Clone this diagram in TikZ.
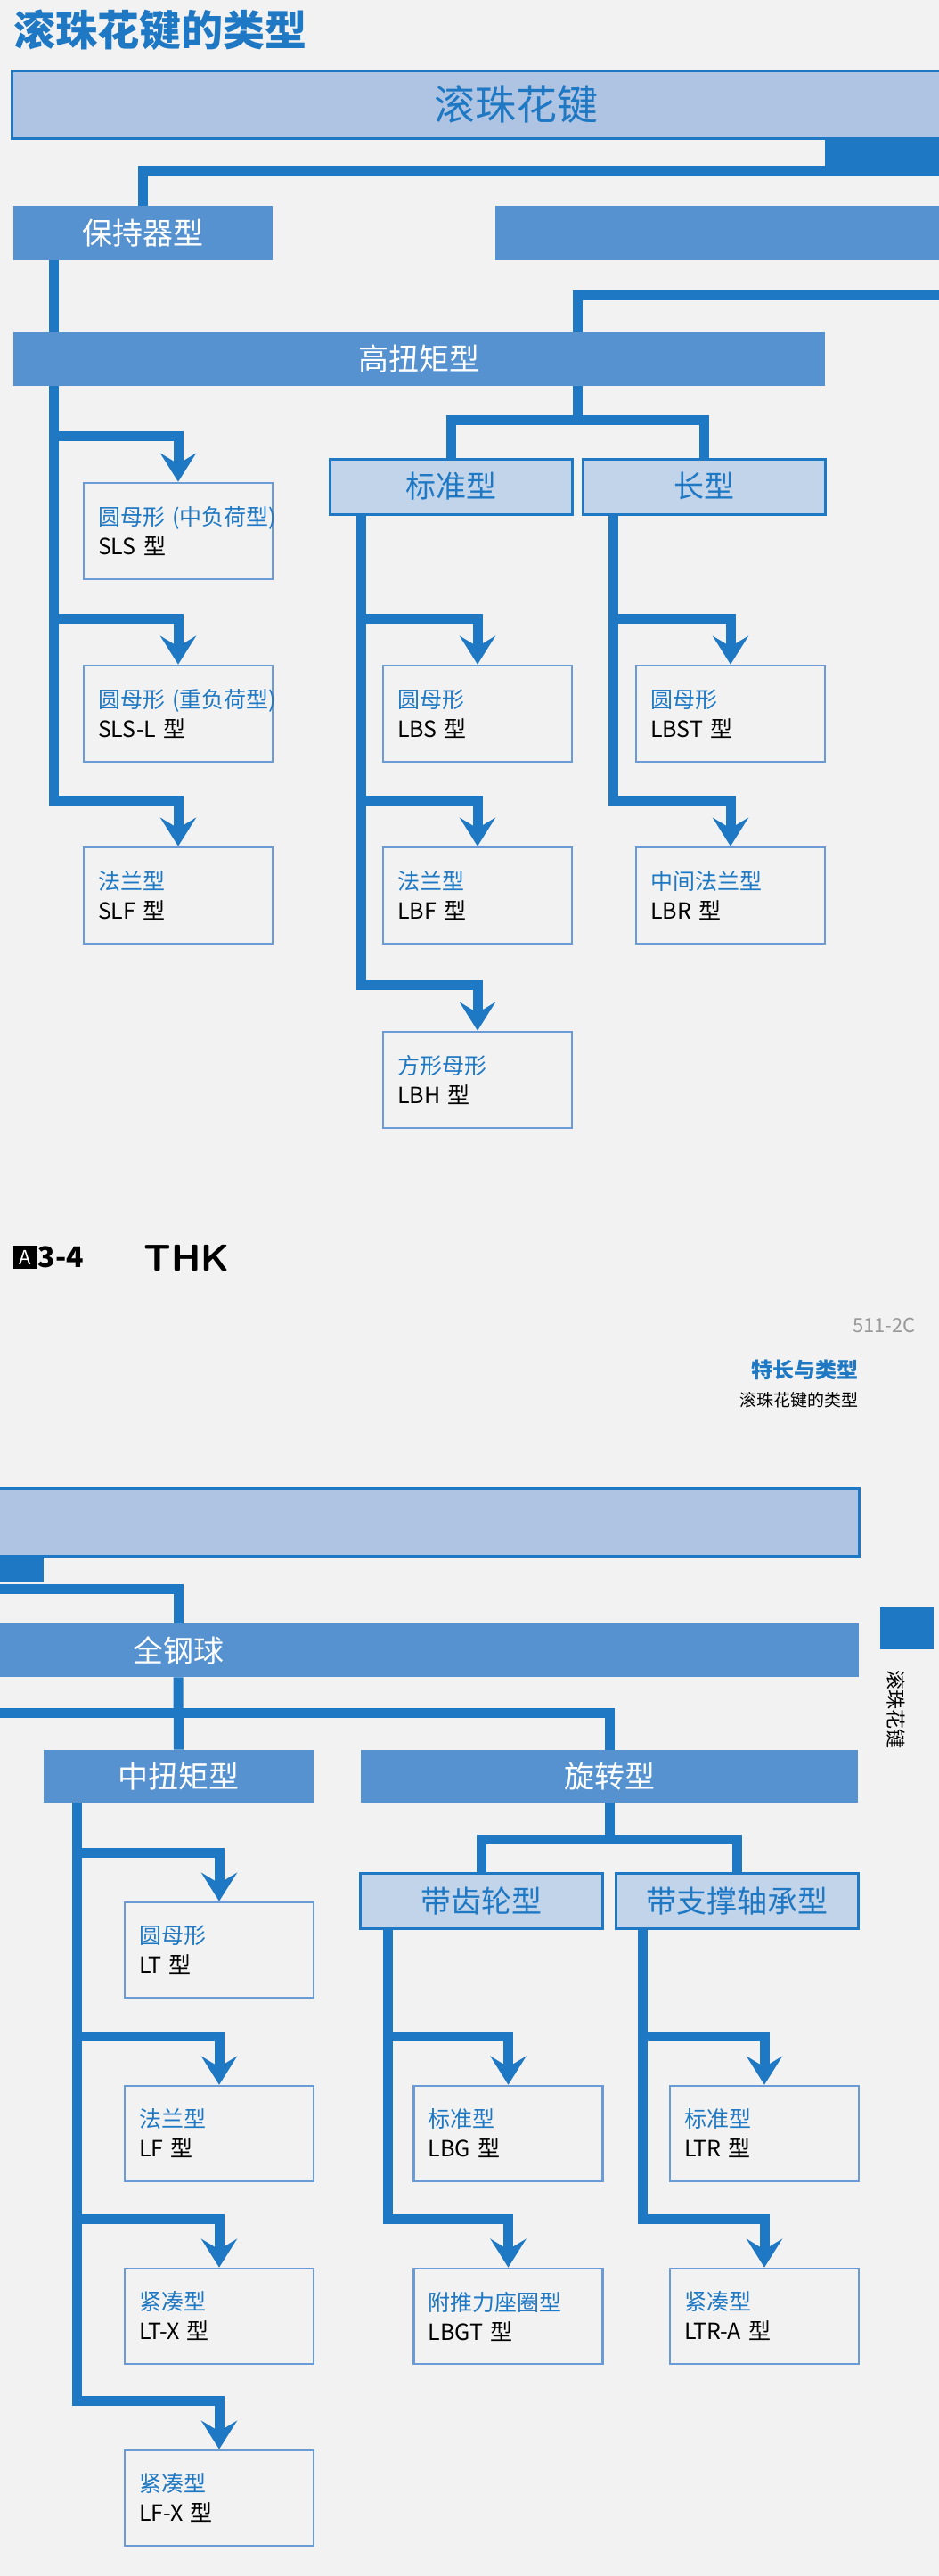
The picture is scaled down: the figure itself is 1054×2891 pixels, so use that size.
\documentclass[tikz,border=0pt]{standalone}
\usepackage{fontspec}
\setmainfont{Noto Sans CJK SC}
\usetikzlibrary{arrows.meta,calc,backgrounds,positioning}
\definecolor{bgray}{HTML}{F2F2F2}
\definecolor{thkdark}{HTML}{1E78C3}
\definecolor{thkmid}{HTML}{5592CF}
\definecolor{thklight}{HTML}{AFC4E2}
\definecolor{thkpale}{HTML}{C2D4EA}
\definecolor{thkleaf}{HTML}{6A9BD6}
\tikzset{
  headbox/.style={fill=thkmid, text=white, inner sep=0pt, font=\fontsize{17pt}{20pt}\selectfont},
  subbox/.style={fill=thkpale, draw=thkdark, line width=1.5pt, text=thkdark, inner sep=0pt,
    minimum width=136pt, minimum height=31pt, font=\fontsize{17pt}{20pt}\selectfont},
  leafbox/.style={draw=thkleaf, line width=1.3pt, align=left, text width=90pt, inner xsep=8pt,
    minimum height=54pt, font=\fontsize{12.5pt}{16.5pt}\selectfont},
  trunk/.style={draw=thkdark, line width=5.5pt},
  branch/.style={trunk, -{Stealth[length=16pt,width=20pt,inset=6pt]}},
}
\newcommand{\leaftext}[2]{\makebox[90pt][l]{\textcolor{thkdark}{#1}}\\#2}
\begin{document}
\begin{tikzpicture}[x=0.5pt,y=-0.5pt]
  \useasboundingbox (0,0) rectangle (1054,2891);
  \begin{scope}[on background layer]
    \fill[bgray] (0,0) rectangle (1054,2891);
  \end{scope}

  % title
  \node[anchor=west, text=thkdark, font=\bfseries\fontsize{23.5pt}{26pt}\selectfont, inner sep=0pt] (title) at (15,34) {滚珠花键的类型};

  % upper half
  \node[fill=thklight, draw=thkdark, line width=1.5pt, text=thkdark, minimum width=566pt, minimum height=38pt,
    font=\fontsize{23pt}{26pt}\selectfont] (spline) at (579,117) {滚珠花键};
  \fill[thkdark] (926,155) rectangle (1054,195);
  \node[headbox, minimum width=145.5pt, minimum height=30.5pt] (hold) at (160.5,261.5) {保持器型};
  \node[headbox, minimum width=272pt, minimum height=30.5pt] (blank) at (828,261.5) {};
  \node[headbox, minimum width=455.5pt, minimum height=30pt] (high) at (470.5,403) {高扭矩型};
  \coordinate (jhigh) at (648.5,373);
  \node[subbox] (std) at (506,546) {标准型};
  \node[subbox] (lng) at (790,546) {长型};

  \node[leafbox] (sls) at (200,596) {\leaftext{圆母形 (中负荷型)}{SLS 型}};
  \node[leafbox] (slsl) at (200,801) {\leaftext{圆母形 (重负荷型)}{SLS-L 型}};
  \node[leafbox] (slf) at (200,1005) {\leaftext{法兰型}{SLF 型}};
  \node[leafbox] (lbs) at (536,801) {\leaftext{圆母形}{LBS 型}};
  \node[leafbox] (lbf) at (536,1005) {\leaftext{法兰型}{LBF 型}};
  \node[leafbox] (lbh) at (536,1212) {\leaftext{方形母形}{LBH 型}};
  \node[leafbox] (lbst) at (820,801) {\leaftext{圆母形}{LBST 型}};
  \node[leafbox] (lbr) at (820,1005) {\leaftext{中间法兰型}{LBR 型}};

  \coordinate (tsls) at (60,292);
  \coordinate (tstd) at (405,577);
  \coordinate (tlng) at (688,577);

  % footer
  \node[fill=black, text=white, minimum width=13.5pt, minimum height=13pt, inner sep=0pt,
    font=\fontsize{11pt}{12pt}\selectfont] (pgbox) at (28.5,1411) {A};
  \node[right=0pt of pgbox, inner sep=0pt, font=\bfseries\fontsize{16pt}{18pt}\selectfont] (pgno) {3-4};
  \node[anchor=west, inner sep=0pt, font=\bfseries\sffamily\fontsize{21pt}{22pt}\selectfont] (logo) at (161,1412) {THK};
  \node[anchor=east, inner sep=0pt, text=black!40, font=\fontsize{11pt}{12pt}\selectfont] (code) at (1028,1487) {511-2C};
  \node[anchor=east, inner sep=0pt, text=thkdark, font=\bfseries\fontsize{12pt}{14pt}\selectfont] (sect) at (964,1537) {特长与类型};
  \node[anchor=east, inner sep=0pt, font=\fontsize{9.5pt}{11pt}\selectfont] (subsect) at (964,1571) {滚珠花键的类型};
  \fill[thkdark] (988,1804) rectangle (1048,1851);
  \node[rotate=-90, inner sep=0pt, font=\fontsize{11pt}{12pt}\selectfont] (side) at (1006,1918) {滚珠花键};

  % lower half
  \node[fill=thklight, draw=thkdark, line width=1.5pt, minimum width=532pt, minimum height=38pt] (spline2) at (432,1708) {};
  \fill[thkdark] (-10,1746) rectangle (49,1776);
  \node[headbox, minimum width=764pt, minimum height=30pt] (full) at (200,1852) {全钢球};
  \node[headbox, minimum width=151.5pt, minimum height=29.5pt] (mid) at (200.5,1993.5) {中扭矩型};
  \node[headbox, minimum width=279pt, minimum height=29.5pt] (rot) at (684,1993.5) {旋转型};
  \node[subbox] (gear) at (540.5,2133.5) {带齿轮型};
  \node[subbox] (sup) at (827,2133.5) {带支撑轴承型};

  \node[leafbox, minimum height=53.5pt] (lt) at (246,2188.5) {\leaftext{圆母形}{LT 型}};
  \node[leafbox, minimum height=53.5pt] (lf) at (246,2394.5) {\leaftext{法兰型}{LF 型}};
  \node[leafbox, minimum height=53.5pt] (ltx) at (246,2599.5) {\leaftext{紧凑型}{LT-X 型}};
  \node[leafbox, minimum height=53.5pt] (lfx) at (246,2803.5) {\leaftext{紧凑型}{LF-X 型}};
  \node[leafbox, minimum height=53.5pt] (lbg) at (570.5,2394.5) {\leaftext{标准型}{LBG 型}};
  \node[leafbox, minimum height=53.5pt] (lbgt) at (570.5,2599.5) {\leaftext{附推力座圈型}{LBGT 型}};
  \node[leafbox, minimum height=53.5pt] (ltr) at (858,2394.5) {\leaftext{标准型}{LTR 型}};
  \node[leafbox, minimum height=53.5pt] (ltra) at (858,2599.5) {\leaftext{紧凑型}{LTR-A 型}};

  \coordinate (tmid) at (86,2023);
  \coordinate (tgear) at (435,2164);
  \coordinate (tsup) at (721,2164);
  \coordinate (eup) at (1070,191.5);
  \coordinate (eup2) at (1070,331.5);
  \coordinate (elow) at (-10,1783);
  \coordinate (elow2) at (-10,1922.5);

  % connectors
  \begin{scope}[on background layer]
    \draw[trunk] (eup) -| (hold.north);
    \draw[trunk] (eup2) -| (jhigh);
    \draw[trunk] (high.south -| jhigh) -- ++(0,42);
    \draw[trunk] (std.north) -- ++(0,-42) -| (lng.north);
    \foreach \leaf in {sls,slsl,slf}
      \draw[branch] (tsls) |- ($(\leaf.north)+(0,-51)$) -- (\leaf.north);
    \foreach \leaf in {lbs,lbf,lbh}
      \draw[branch] (tstd) |- ($(\leaf.north)+(0,-51)$) -- (\leaf.north);
    \foreach \leaf in {lbst,lbr}
      \draw[branch] (tlng) |- ($(\leaf.north)+(0,-51)$) -- (\leaf.north);

    \draw[trunk] (elow) -| (full.north);
    \draw[trunk] (full.south) -- (mid.north);
    \draw[trunk] (elow2) -| (rot.north);
    \draw[trunk] (rot.south) -- ++(0,43);
    \draw[trunk] (gear.north) -- ++(0,-37) -| (sup.north);
    \foreach \leaf in {lt,lf,ltx,lfx}
      \draw[branch] (tmid) |- ($(\leaf.north)+(0,-54)$) -- (\leaf.north);
    \foreach \leaf in {lbg,lbgt}
      \draw[branch] (tgear) |- ($(\leaf.north)+(0,-54)$) -- (\leaf.north);
    \foreach \leaf in {ltr,ltra}
      \draw[branch] (tsup) |- ($(\leaf.north)+(0,-54)$) -- (\leaf.north);
  \end{scope}
\end{tikzpicture}
\end{document}
